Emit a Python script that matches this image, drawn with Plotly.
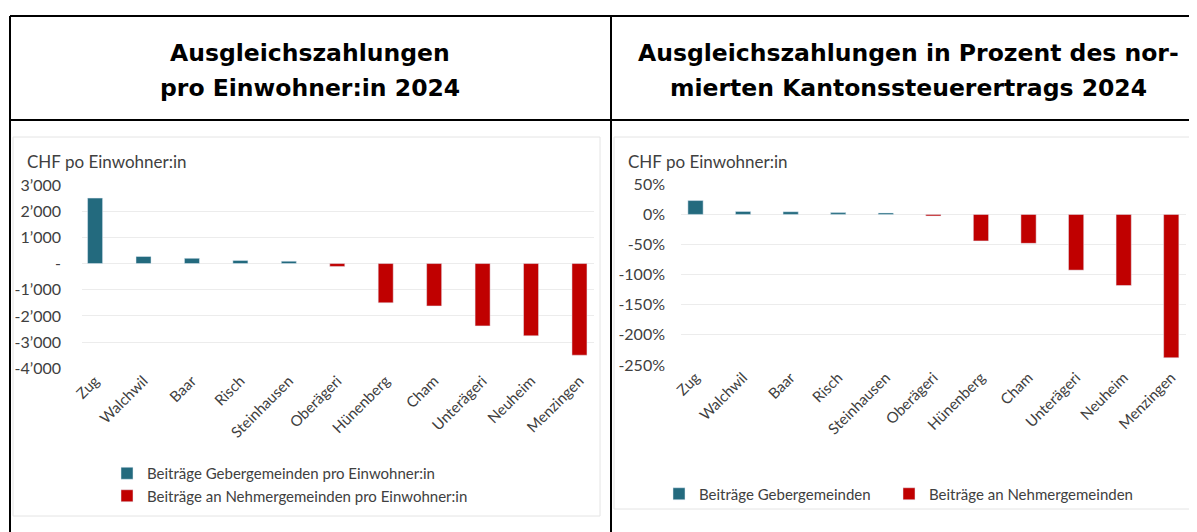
import plotly.graph_objects as go

# The page body has an 8px margin, so the figure is drawn 8px in from the edges.
OFF = 8
W, H = 1197 - OFF, 532 - OFF

categories = ["Zug", "Walchwil", "Baar", "Risch", "Steinhausen", "Oberägeri",
              "Hünenberg", "Cham", "Unterägeri", "Neuheim", "Menzingen"]

# Left chart: CHF per inhabitant
geber_chf = [2500, 270, 200, 120, 90, None, None, None, None, None, None]
nehmer_chf = [None, None, None, None, None, -110, -1500, -1620, -2380, -2760, -3500]

# Right chart: percent of normed cantonal tax yield
geber_pct = [23, 5, 4.5, 3, 2.5, None, None, None, None, None, None]
nehmer_pct = [None, None, None, None, None, -2.5, -44, -48, -92.5, -118, -238]

left_tickvals = [3000, 2000, 1000, 0, -1000, -2000, -3000, -4000]
left_ticktext = ["3’000", "2’000", "1’000", "-", "-1’000", "-2’000", "-3’000", "-4’000"]
right_tickvals = [50, 0, -50, -100, -150, -200, -250]
right_ticktext = ["50%", "0%", "-50%", "-100%", "-150%", "-200%", "-250%"]

title_left = ["Ausgleichszahlungen", "pro Einwohner:in 2024"]
title_right = ["Ausgleichszahlungen in Prozent des nor-", "mierten Kantonssteuerertrags 2024"]
axis_title = "CHF po Einwohner:in"

TEAL = "#236a7e"
RED = "#c00000"
TXT = "#404040"
GRID = "#ececec"
FONT = "Lato"


def px(x):
    return (x - OFF) / W


def py(y):
    return 1 - (y - OFF) / H


fig = go.Figure()

fig.add_trace(go.Bar(x=categories, y=geber_chf, marker_color=TEAL, width=0.31,
                     name="Beiträge Gebergemeinden pro Einwohner:in",
                     xaxis="x", yaxis="y", legend="legend", legendgroup="a"))
fig.add_trace(go.Bar(x=categories, y=nehmer_chf, marker_color=RED, width=0.31,
                     name="Beiträge an Nehmergemeinden pro Einwohner:in",
                     xaxis="x", yaxis="y", legend="legend", legendgroup="b"))
fig.add_trace(go.Bar(x=categories, y=geber_pct, marker_color=TEAL, width=0.32,
                     name="Beiträge Gebergemeinden",
                     xaxis="x2", yaxis="y2", legend="legend2"))
fig.add_trace(go.Bar(x=categories, y=nehmer_pct, marker_color=RED, width=0.32,
                     name="Beiträge an Nehmergemeinden",
                     xaxis="x2", yaxis="y2", legend="legend3"))

shapes = []
# chart panels
shapes.append(dict(type="rect", xref="paper", yref="paper", layer="below",
                   x0=px(13), x1=px(600), y0=py(516), y1=py(137),
                   fillcolor="white", line=dict(color="#e4e4e4", width=1)))
shapes.append(dict(type="rect", xref="paper", yref="paper", layer="below",
                   x0=px(614), x1=px(1190), y0=py(509), y1=py(137),
                   fillcolor="white", line=dict(color="#e4e4e4", width=1)))
# table lines
for (x0, y0, x1, y1) in [(10, 16, 1205, 16), (10, 120, 1205, 120),
                         (10, 16, 10, 540), (611, 16, 611, 540)]:
    shapes.append(dict(type="line", xref="paper", yref="paper",
                       x0=px(x0), x1=px(x1), y0=py(y0), y1=py(y1),
                       line=dict(color="black", width=2)))

title_font = dict(family="DejaVu Sans", size=23.5, color="black", weight="bold")
annotations = []
for cx, lines in [(310, title_left), (908, title_right)]:
    for ly, line in zip([53, 88], lines):
        annotations.append(dict(text=line, x=px(cx), y=py(ly), xref="paper", yref="paper",
                                showarrow=False, xanchor="center", yanchor="middle",
                                font=title_font))
for ax_x in [25, 626]:
    annotations.append(dict(text=axis_title, x=px(ax_x), y=py(161), xref="paper",
                            yref="paper", showarrow=False, xanchor="left",
                            yanchor="middle", font=dict(family=FONT, size=17, color=TXT)))

tickfont = dict(family=FONT, size=16, color=TXT)
catfont = dict(family=FONT, size=15, color=TXT)
legfont = dict(family=FONT, size=15, color=TXT)

fig.update_layout(
    width=W, height=H,
    margin=dict(l=0, r=0, t=0, b=0, pad=0),
    paper_bgcolor="white", plot_bgcolor="rgba(0,0,0,0)",
    barmode="relative",
    showlegend=True,
    shapes=shapes,
    annotations=annotations,
    xaxis=dict(domain=[px(82), px(594)], range=[-0.27, 10.3], anchor="y",
               tickangle=-45, tickfont=catfont, showgrid=False, showline=False,
               ticks="", automargin=False, fixedrange=True),
    yaxis=dict(domain=[py(368.3), py(185)], range=[-4000, 3000], anchor="x",
               tickvals=left_tickvals, ticktext=left_ticktext, tickfont=tickfont,
               showgrid=True, gridcolor=GRID, gridwidth=1, zeroline=True,
               zerolinecolor=GRID, zerolinewidth=1, showline=False, ticks="",
               ticklabelstandoff=20, automargin=False, fixedrange=True),
    xaxis2=dict(domain=[px(681), px(1186)], range=[-0.305, 10.31], anchor="y2",
                tickangle=-45, tickfont=catfont, showgrid=False, showline=False,
                ticks="", automargin=False, fixedrange=True),
    yaxis2=dict(domain=[py(365), py(184.3)], range=[-250, 50], anchor="x2",
                tickvals=right_tickvals, ticktext=right_ticktext, tickfont=tickfont,
                showgrid=True, gridcolor=GRID, gridwidth=1, zeroline=True,
                zerolinecolor=GRID, zerolinewidth=1, showline=False, ticks="",
                ticklabelstandoff=15, automargin=False, fixedrange=True),
    legend=dict(x=px(107), y=py(457), xanchor="left", yanchor="top",
                orientation="v", font=legfont,
                bgcolor="rgba(0,0,0,0)", tracegroupgap=4, itemwidth=30,
                traceorder="normal"),
    legend2=dict(x=px(659), y=py(494), xanchor="left", yanchor="middle",
                 orientation="h", font=legfont,
                 bgcolor="rgba(0,0,0,0)", itemwidth=30),
    legend3=dict(x=px(889), y=py(494), xanchor="left", yanchor="middle",
                 orientation="h", font=legfont,
                 bgcolor="rgba(0,0,0,0)", itemwidth=30),
)

fig.write_html("out.html")
